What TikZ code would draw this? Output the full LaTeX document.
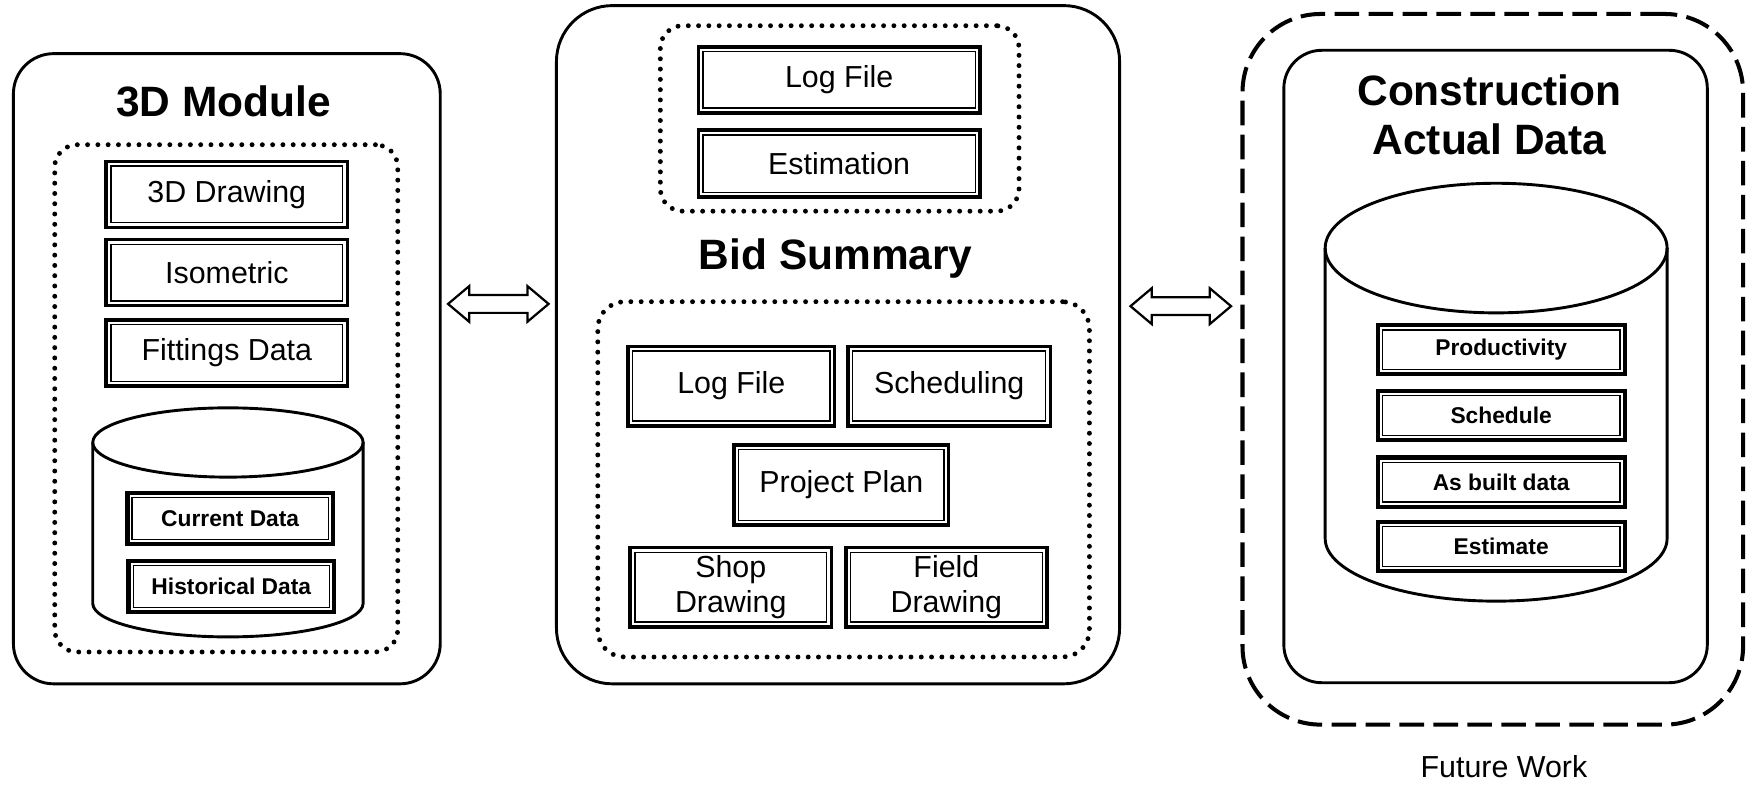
\documentclass[tikz,border=0pt]{standalone}
\usepackage{fontspec}
\setmainfont{Liberation Sans}
\usetikzlibrary{calc}
\begin{document}
\begin{tikzpicture}[x=0.5pt,y=-0.5pt,
  outbox/.style={draw, line width=1.3pt, inner sep=0pt},
  dotbox/.style={draw, line width=2.2pt, dash pattern=on 0pt off 4.6pt, line cap=round, inner sep=0pt},
  dashbox/.style={draw, line width=1.8pt, dash pattern=on 11pt off 4.2pt, inner sep=0pt},
  dbox/.style={draw, line width=1.6pt, inner sep=0pt, align=center,
    font=\fontsize{13.6}{16}\selectfont,
    path picture={\draw[line width=0.6pt] ([shift={(2.1pt,2.1pt)}]path picture bounding box.south west) rectangle ([shift={(-2.1pt,-2.1pt)}]path picture bounding box.north east);}},
  sbox/.style={dbox, line width=1.9pt, font=\bfseries\fontsize{10.2}{12}\selectfont},
  ttl/.style={font=\bfseries\fontsize{19}{22}\selectfont, align=center, inner sep=0pt},
  cyl/.style={draw, line width=1.3pt},
  darrow/.style={draw, line width=1pt, line join=miter}
]
\useasboundingbox (0,0) rectangle (1568,703.4);

% ---------------- left: 3D module
\node[outbox, rounded corners=18pt, minimum width=191pt, minimum height=282pt] (m3d) at (203,330) {};
\node[ttl] (t3d) at (200,91) {3D Module};
\node[dotbox, rounded corners=10pt, minimum width=153.5pt, minimum height=227pt] (g3d) at (202.5,356.5) {};
\node[dbox, minimum width=108pt, minimum height=29.5pt] (d3d) at (203,174) {3D Drawing};
\node[dbox, minimum width=108pt, minimum height=29.5pt] (iso) at (203,244) {Isometric};
\node[dbox, minimum width=108pt, minimum height=29.5pt] (fit) at (203,316) {Fittings Data};
\draw[cyl] (83,396) -- (83,540) arc[start angle=180, end angle=0, x radius=121, y radius=30] -- (325,396);
\draw[cyl] (204,396) ellipse [x radius=121, y radius=31];
\node[sbox, minimum width=92pt, minimum height=23pt] (cur) at (206,464) {Current Data};
\node[sbox, minimum width=92pt, minimum height=23pt] (his) at (207,525) {Historical Data};

% ---------------- middle: bid summary
\node[outbox, rounded corners=25pt, minimum width=252pt, minimum height=303.5pt] (bid) at (750,308.5) {};
\node[dotbox, rounded corners=10pt, minimum width=160.5pt, minimum height=83pt] (gtop) at (751.5,106) {};
\node[dbox, minimum width=126pt, minimum height=29.5pt] (log1) at (751,71.5) {Log File};
\node[dbox, minimum width=126pt, minimum height=30pt] (est) at (751,146.5) {Estimation};
\node[ttl] (tbid) at (748,231) {Bid Summary};
\node[dotbox, rounded corners=12pt, minimum width=220pt, minimum height=159pt] (gbot) at (755,429) {};
\node[dbox, minimum width=92.5pt, minimum height=35.5pt] (log2) at (654.5,345.5) {Log File};
\node[dbox, minimum width=90.5pt, minimum height=35.5pt] (sch) at (849.5,345.5) {Scheduling};
\node[dbox, minimum width=96pt, minimum height=36pt] (plan) at (753,434) {Project Plan};
\node[dbox, minimum width=90pt, minimum height=35.5pt] (shop) at (654,525.5) {Shop\\Drawing};
\node[dbox, minimum width=90pt, minimum height=35.5pt] (field) at (847,525.5) {Field\\Drawing};

% ---------------- right: construction actual data
\node[dashbox, rounded corners=35pt, minimum width=224pt, minimum height=318pt] (fut) at (1336,330.5) {};
\node[outbox, rounded corners=17pt, minimum width=189.5pt, minimum height=283pt] (cad) at (1338.5,328) {};
\node[ttl] (tcad) at (1333,103) {Construction\\Actual Data};
\draw[cyl] (1186,222) -- (1186,482) arc[start angle=180, end angle=0, x radius=153, y radius=56] -- (1492,222);
\draw[cyl] (1339,222) ellipse [x radius=153, y radius=58];
\node[sbox, minimum width=110.5pt, minimum height=22pt] (prod) at (1343.5,313) {Productivity};
\node[sbox, minimum width=110.5pt, minimum height=22pt] (schd) at (1343.5,372) {Schedule};
\node[sbox, minimum width=110.5pt, minimum height=22pt] (asb) at (1343.5,431.5) {As built data};
\node[sbox, minimum width=110.5pt, minimum height=22pt] (esti) at (1343.5,489) {Estimate};
\node[font=\fontsize{13.6}{16}\selectfont, inner sep=0pt] (fw) at (1346,686) {Future Work};

% ---------------- double arrows
\coordinate (a1) at ($(m3d.east)!0.5!(bid.west)$);
\coordinate (a1) at (a1 |- 0,272);
\coordinate (a2) at ($(bid.east)!0.5!(fut.west)$);
\coordinate (a2) at (a2 |- 0,274);
\draw[darrow] (a1) ++(-45,0) -- ++(19,-16) -- ++(0,8) -- ++(52,0) -- ++(0,-8) -- ++(19,16) -- ++(-19,16) -- ++(0,-8) -- ++(-52,0) -- ++(0,8) -- cycle;
\draw[darrow] (a2) ++(-45,0) -- ++(19,-16) -- ++(0,8) -- ++(52,0) -- ++(0,-8) -- ++(19,16) -- ++(-19,16) -- ++(0,-8) -- ++(-52,0) -- ++(0,8) -- cycle;
\end{tikzpicture}
\end{document}
